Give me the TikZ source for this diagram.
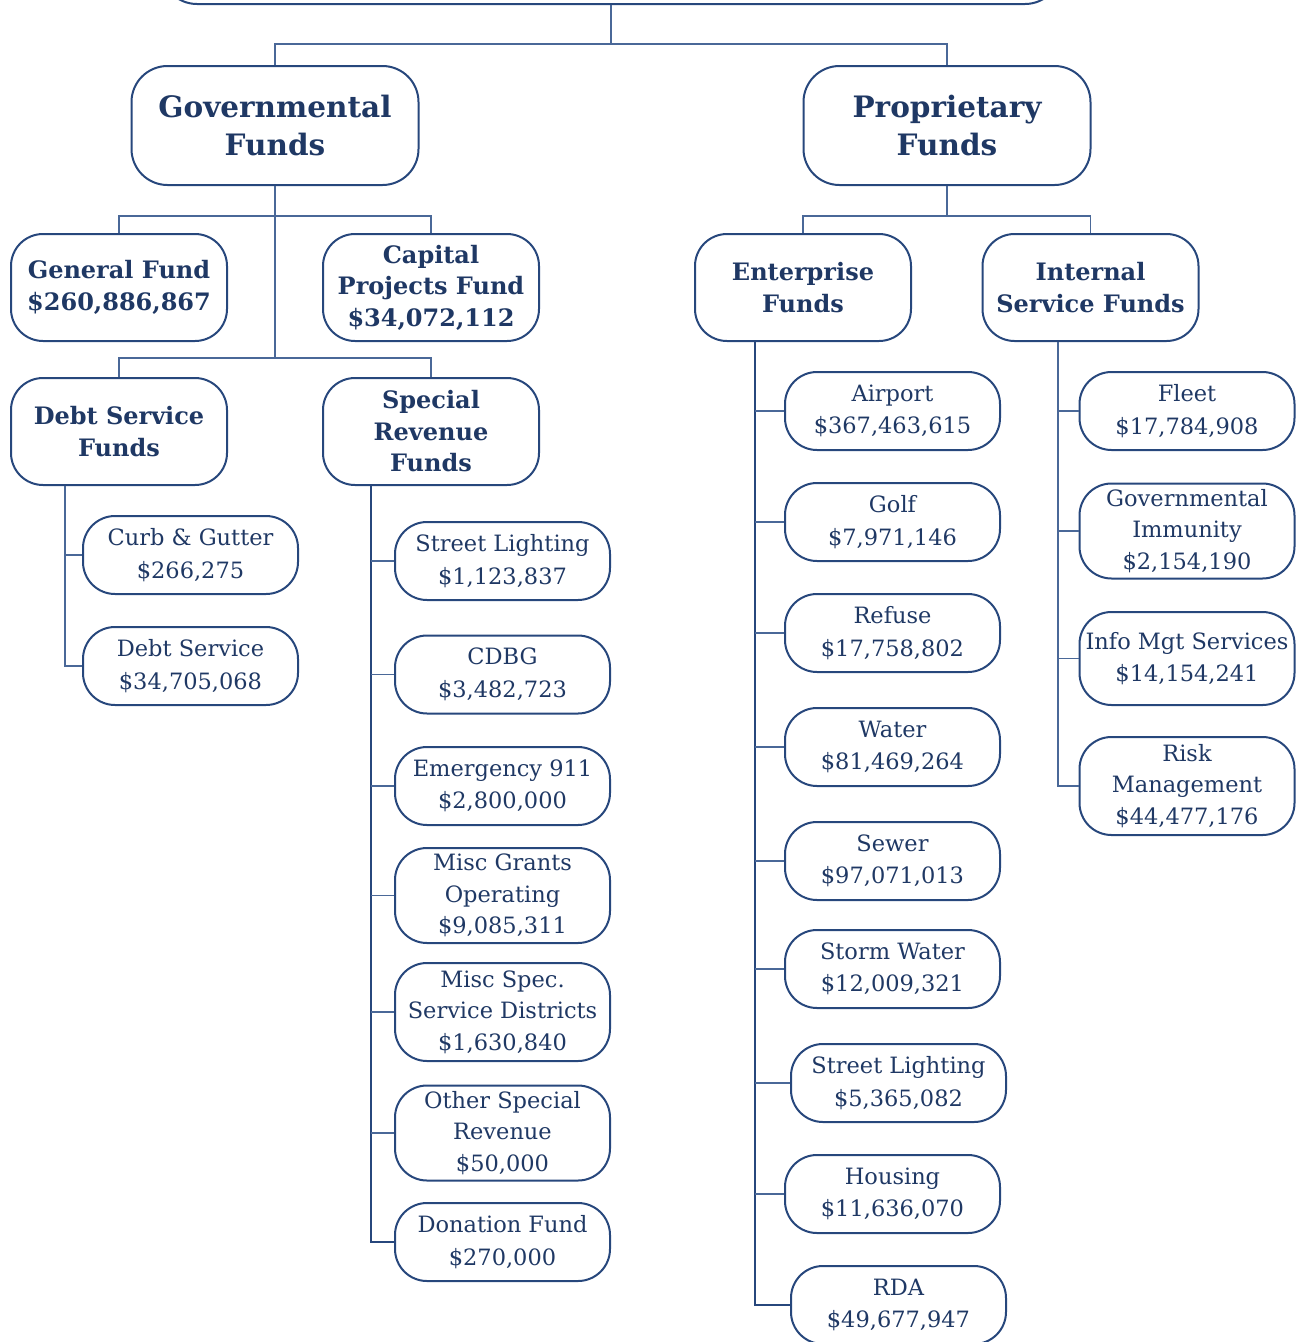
\documentclass[tikz,border=0pt]{standalone}
\usepackage{fontspec}
\setmainfont{DejaVu Serif}
\definecolor{txt}{HTML}{1F3864}
\definecolor{bord}{HTML}{27477C}
\definecolor{conn}{HTML}{4A6898}
\tikzset{
  box/.style={draw=bord, line width=2pt, rectangle, rounded corners=32pt, align=center, text=txt, inner sep=0pt},
  head/.style={box, minimum width=287pt, minimum height=119pt, font=\fontsize{29.5}{38}\selectfont\bfseries, rounded corners=36pt},
  mid/.style={box, minimum width=216pt, minimum height=107pt, font=\fontsize{24}{31.5}\selectfont\bfseries},
  leaf/.style={box, minimum width=215pt, minimum height=78pt, font=\fontsize{22.5}{32.5}\selectfont},
  leaf3/.style={leaf, minimum height=95pt, font=\fontsize{22.5}{31.5}\selectfont},
  wire/.style={draw=conn, line width=1.3pt},
  trunk/.style={draw=bord, line width=1.6pt}
}
\begin{document}
\begin{tikzpicture}[x=1pt,y=-1pt]
\useasboundingbox (0,0) rectangle (1298,1342);
% root (cut off at top)
\node[box, minimum width=900pt, minimum height=90pt, rounded corners=36pt] (root) at (611,-41) {};
% level 1
\node[head] (gov) at (275,125.5) {Governmental\\Funds};
\node[head] (prop) at (947,125.5) {Proprietary\\Funds};
\coordinate (j0) at (611,44);
\draw[wire] (root.south) -- (j0);
\draw[wire] (gov.north) |- (j0) -| (prop.north);
% governmental children
\node[mid] (gen) at (119,287.5) {General Fund\\\$260,886,867};
\node[mid] (cap) at (431,287.5) {Capital\\Projects Fund\\\$34,072,112};
\node[mid] (dsf) at (119,431.5) {Debt Service\\Funds};
\node[mid] (srf) at (431,431.5) {Special\\Revenue\\Funds};
\coordinate (g1) at (275,216);
\coordinate (g2) at (275,358);
\draw[wire] (gov.south) -- (g2);
\draw[wire] (gen.north) |- (g1) -| (cap.north);
\draw[wire] (dsf.north) |- (g2) -| (srf.north);
% proprietary children
\node[mid] (ent) at (803,287.5) {Enterprise\\Funds};
\node[mid] (isf) at (1090.5,287.5) {Internal\\Service Funds};
\coordinate (p1) at (947,216);
\draw[wire] (prop.south) -- (p1);
\draw[wire] (ent.north) |- (p1) -| (isf.north);
% debt service leaves
\coordinate (dt) at (65,0);
\node[leaf] (cg) at (190.5,555) {Curb \& Gutter\\\$266,275};
\node[leaf] (ds) at (190.5,666) {Debt Service\\\$34,705,068};
\draw[wire] (dsf.south -| dt) |- (ds.west);
\draw[wire] (cg.west) -- (cg.west -| dt);
% special revenue leaves
\coordinate (st) at (371,0);
\node[leaf] (sl1) at (502.5,561) {Street Lighting\\\$1,123,837};
\node[leaf] (cdbg) at (502.5,674.5) {CDBG\\\$3,482,723};
\node[leaf] (e911) at (502.5,786) {Emergency 911\\\$2,800,000};
\node[leaf3] (mgo) at (502.5,895.5) {Misc Grants\\Operating\\\$9,085,311};
\node[leaf3, minimum height=98pt] (msd) at (502.5,1012) {Misc Spec.\\Service Districts\\\$1,630,840};
\node[leaf3] (osr) at (502.5,1133) {Other Special\\Revenue\\\$50,000};
\node[leaf] (don) at (502.5,1242) {Donation Fund\\\$270,000};
\draw[trunk] (srf.south -| st) |- (don.west);
\foreach \n in {sl1,cdbg,e911,mgo,msd,osr}
  \draw[wire] (\n.west) -- (\n.west -| st);
% enterprise leaves
\coordinate (et) at (755,0);
\node[leaf] (air) at (892.5,411) {Airport\\\$367,463,615};
\node[leaf] (golf) at (892.5,522) {Golf\\\$7,971,146};
\node[leaf] (ref) at (892.5,633) {Refuse\\\$17,758,802};
\node[leaf] (wat) at (892.5,747) {Water\\\$81,469,264};
\node[leaf] (sew) at (892.5,861) {Sewer\\\$97,071,013};
\node[leaf] (stw) at (892.5,969) {Storm Water\\\$12,009,321};
\node[leaf] (sl2) at (898.5,1083) {Street Lighting\\\$5,365,082};
\node[leaf] (hou) at (892.5,1194) {Housing\\\$11,636,070};
\node[leaf] (rda) at (898.5,1305) {RDA\\\$49,677,947};
\draw[trunk] (ent.south -| et) |- (rda.west);
\foreach \n in {air,golf,ref,wat,sew,stw,sl2,hou}
  \draw[wire] (\n.west) -- (\n.west -| et);
% internal service leaves
\coordinate (it) at (1058,0);
\node[leaf] (flt) at (1187,411) {Fleet\\\$17,784,908};
\node[leaf3] (gim) at (1187,531) {Governmental\\Immunity\\\$2,154,190};
\node[leaf3, minimum height=93pt] (ims) at (1187,658.5) {Info Mgt Services\\\$14,154,241};
\node[leaf3, minimum height=98pt] (rsk) at (1187,786) {Risk\\Management\\\$44,477,176};
\draw[wire] (isf.south -| it) |- (rsk.west);
\foreach \n in {flt,gim,ims}
  \draw[wire] (\n.west) -- (\n.west -| it);
\end{tikzpicture}
\end{document}
